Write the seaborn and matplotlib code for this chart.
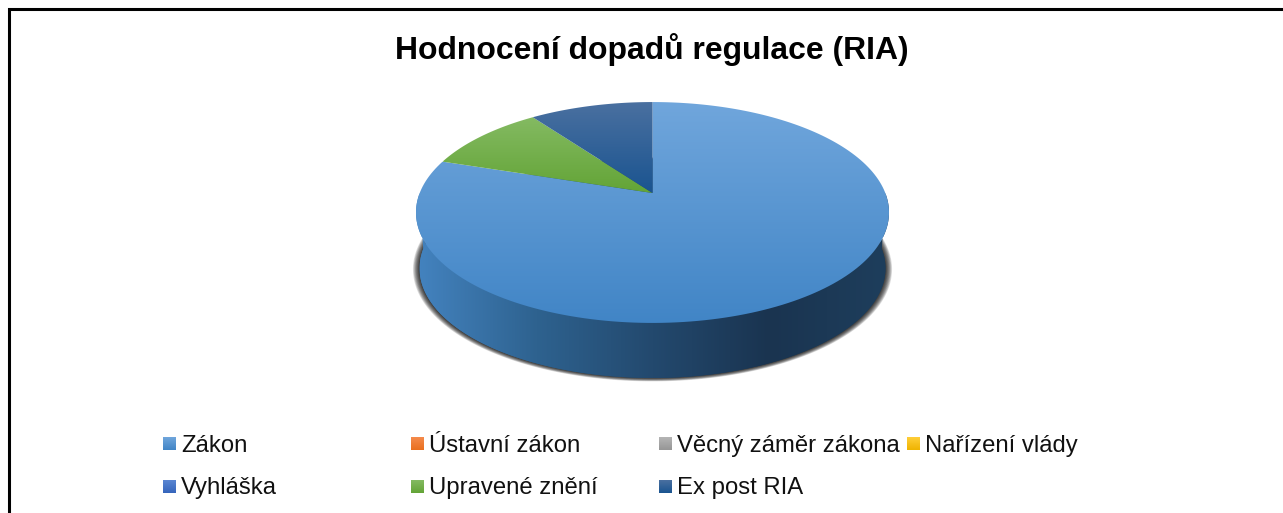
import numpy as np
import matplotlib
matplotlib.use("Agg")
import matplotlib.pyplot as plt
import seaborn as sns
from matplotlib.colors import LinearSegmentedColormap
from matplotlib.patches import Polygon

categories = ["Zákon", "Ústavní zákon", "Věcný záměr zákona", "Nařízení vlády",
              "Vyhláška", "Upravené znění", "Ex post RIA"]
values = [8, 0, 0, 0, 0, 1, 1]
# top and bottom colour of each category's gradient
colors_top = ["#70A6DC", "#F58B4C", "#B5B5B5", "#FFCE3A", "#5B86D2", "#84BA62", "#4A70A0"]
colors_bottom = ["#4185C6", "#E96F1E", "#969696", "#EFB400", "#3565BC", "#63A436", "#1A5490"]
wall_stops = ["#4382BE", "#2E628F", "#23496E", "#1A3450", "#1E3E5C"]

sns.set_theme(style="white")
plt.rcParams["font.family"] = ["Liberation Sans", "DejaVu Sans"]

fig = plt.figure(figsize=(12.83, 5.13), dpi=100)
ax = fig.add_axes([0, 0, 1, 1])


def grad_fill(poly, c1, c2, horizontal=False, zorder=3):
    # gradient image clipped to a patch, spans the patch bbox
    xs, ys = poly[:, 0], poly[:, 1]
    ext = [xs.min(), xs.max(), ys.max(), ys.min()]
    stops = c1 if isinstance(c1, list) else [c1, c2]
    cmap = LinearSegmentedColormap.from_list("g", stops)
    g = np.linspace(0, 1, 256)
    g = g[None, :] if horizontal else g[:, None]
    im = ax.imshow(g, extent=ext, cmap=cmap, aspect="auto", zorder=zorder,
                   interpolation="bilinear", origin="upper")
    patch = Polygon(poly, closed=True, transform=ax.transData, fc="none", ec="none")
    ax.add_patch(patch)
    im.set_clip_path(patch)


# pie only gives the wedge angles here, the drawn faces are projected from them
wedges, _ = ax.pie(values, startangle=90, counterclock=False)
angles = [(w.theta1, w.theta2) for w in wedges]
for w in wedges:
    w.set_visible(False)

ax.set_aspect("auto")
ax.set_xlim(0, 1283)
ax.set_ylim(513, 0)
ax.axis("off")

XC, YC = 652.5, 193
A, B, K = 232.8, 107.0, 0.1765


def project(theta, a=A, b=B, yc=YC):
    t = np.radians(theta)
    u, v = np.cos(t), -np.sin(t)
    w = 1 - K * v
    return XC + a * u / w, yc + b * v / w


full = np.linspace(0, 360, 361)
LOW_A, LOW_B, LOW_Y = A - 3.5, B - 0.8, YC + 56

# soft shadow behind the wall, stacked from wide and faint to narrow
for i in range(10):
    sx, sy = project(full, a=LOW_A + 6.5 - i * 0.7, b=LOW_B + 2.4 - i * 0.3, yc=LOW_Y + 0.5)
    ax.add_patch(Polygon(np.c_[sx, sy], closed=True, fc="#000000", ec="none",
                         alpha=0.13, zorder=1))

# wall: side band between the two discs, plus the lower disc under it
lx, ly = project(full, a=LOW_A, b=LOW_B, yc=LOW_Y)
upper = np.array(project(np.linspace(180, 360, 181))).T
lower = np.array(project(np.linspace(360, 180, 181), a=LOW_A, b=LOW_B, yc=LOW_Y)).T
grad_fill(np.r_[upper, lower], wall_stops, None, horizontal=True, zorder=2)
grad_fill(np.c_[lx, ly], wall_stops, None, horizontal=True, zorder=2)

# top faces
for (t1, t2), v, c1, c2 in zip(angles, values, colors_top, colors_bottom):
    if v == 0:
        continue
    th = np.linspace(t1, t2, 200)
    ex, ey = project(th)
    poly = np.r_[[[XC, YC]], np.c_[ex, ey]]
    grad_fill(poly, c1, c2, zorder=4)

# frame, runs off the right and bottom of the picture
ax.plot([9, 9, 1290], [520, 8.8, 8.8], color="black", lw=2.2, solid_joinstyle="miter",
        zorder=6, clip_on=False)

ax.text(651.5, 59.5, "Hodnocení dopadů regulace (RIA)", fontsize=22.95, fontweight="bold",
        color="black", ha="center", va="baseline", zorder=6)

# legend, drawn by hand in the chart's own 4 column grid
col_x = [163, 411, 659, 907]
row_y = [437, 480]
text_y = [452, 494]
for i, (name, c1, c2) in enumerate(zip(categories, colors_top, colors_bottom)):
    x, y = col_x[i % 4], row_y[i // 4]
    box = np.array([[x, y], [x + 13, y], [x + 13, y + 13], [x, y + 13]], dtype=float)
    grad_fill(box, c1, c2, zorder=5)
    ax.text(x + 18, text_y[i // 4], name, fontsize=17.2, color="#111111", ha="left",
            va="baseline", zorder=6)

fig.savefig("out.png", dpi=100, facecolor="white")
